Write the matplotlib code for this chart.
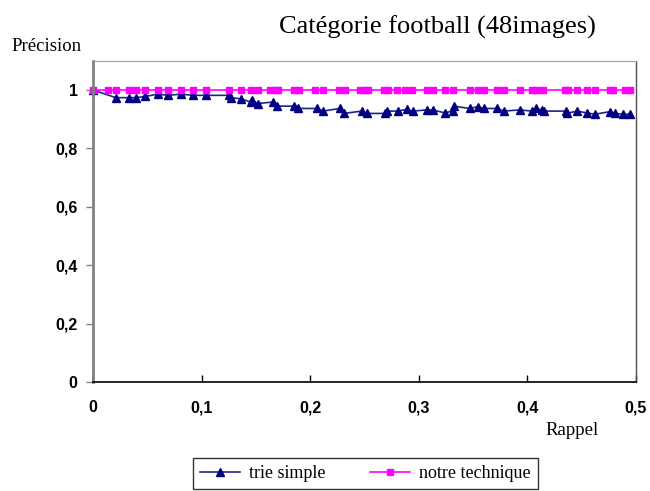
"""
Courbe précision / rappel, catégorie football.
"""
import matplotlib
matplotlib.use("Agg")
import matplotlib.pyplot as plt
from matplotlib.ticker import FuncFormatter

# données
rappel_trie = [0.0, 0.0212, 0.0331, 0.0396, 0.0479, 0.0599, 0.0691, 0.0810, 0.0921,
               0.1041, 0.1252, 0.1271, 0.1363, 0.1455, 0.1464, 0.1519, 0.1657, 0.1694,
               0.1851, 0.1888, 0.2063, 0.2118, 0.2274, 0.2311, 0.2477, 0.2523, 0.2689,
               0.2707, 0.2808, 0.2891, 0.2947, 0.3076, 0.3131, 0.3241, 0.3315, 0.3324,
               0.3471, 0.3545, 0.3600, 0.3720, 0.3785, 0.3932, 0.4042, 0.4079, 0.4134,
               0.4153, 0.4355, 0.4365, 0.4457, 0.4549, 0.4622, 0.4761, 0.4807, 0.4880,
               0.4945]
precision_trie = [1.0, 0.974, 0.974, 0.974, 0.978, 0.986, 0.982, 0.986, 0.982,
                  0.982, 0.982, 0.974, 0.970, 0.959, 0.966, 0.954, 0.959, 0.945,
                  0.945, 0.937, 0.937, 0.928, 0.937, 0.920, 0.928, 0.920, 0.920,
                  0.928, 0.928, 0.934, 0.928, 0.932, 0.932, 0.922, 0.928, 0.945,
                  0.937, 0.943, 0.937, 0.937, 0.928, 0.932, 0.928, 0.937, 0.932,
                  0.928, 0.928, 0.920, 0.928, 0.922, 0.917, 0.926, 0.920, 0.917,
                  0.917]

rappel_notre = [0.0, 0.0138, 0.0212, 0.0331, 0.0396, 0.0479, 0.0599, 0.0691, 0.0810,
                0.0921, 0.1041, 0.1252, 0.1363, 0.1455, 0.1519, 0.1630, 0.1676, 0.1703,
                0.1851, 0.1897, 0.2044, 0.2118, 0.2265, 0.2320, 0.2459, 0.2505, 0.2532,
                0.2680, 0.2716, 0.2799, 0.2873, 0.2937, 0.3076, 0.3131, 0.3241, 0.3315,
                0.3471, 0.3545, 0.3600, 0.3720, 0.3785, 0.3932, 0.4042, 0.4088, 0.4144,
                0.4346, 0.4374, 0.4457, 0.4549, 0.4622, 0.4761, 0.4788, 0.4899, 0.4945]
precision_notre = [1.0] * len(rappel_notre)

x_ticks = [0, 0.1, 0.2, 0.3, 0.4, 0.5]
y_ticks = [0, 0.2, 0.4, 0.6, 0.8, 1.0]

fig = plt.figure(figsize=(6.5, 4.91), dpi=100)
ax = fig.add_axes([0.143, 0.222, 0.835, 0.654])

ax.plot(rappel_trie, precision_trie, color="#22228a", linewidth=1.2,
        marker="^", markersize=6, markerfacecolor="#000080",
        markeredgecolor="#000080", label="trie simple", clip_on=False)
ax.plot(rappel_notre, precision_notre, color="#ff00ff", linewidth=1.2,
        marker="s", markersize=4.5, markerfacecolor="#ff00ff",
        markeredgecolor="#ff00ff", label="notre technique", clip_on=False)

ax.set_xlim(0, 0.5)
ax.set_ylim(0, 1.1)
ax.set_xticks(x_ticks)
ax.set_yticks(y_ticks)


def virgule(v, pos):
    s = "%g" % v
    return s.replace(".", ",")


ax.xaxis.set_major_formatter(FuncFormatter(virgule))
ax.yaxis.set_major_formatter(FuncFormatter(virgule))
for lab in ax.get_xticklabels() + ax.get_yticklabels():
    lab.set_fontfamily("Liberation Sans")
    lab.set_fontweight("bold")
    lab.set_fontsize(11.5)

ax.tick_params(axis="x", direction="in", length=5, width=1, pad=13, color="black")
ax.tick_params(axis="y", direction="out", length=5, width=1, pad=6, color="#808080")

ax.spines["left"].set_color("#808080")
ax.spines["left"].set_linewidth(2)
ax.spines["bottom"].set_color("black")
ax.spines["bottom"].set_linewidth(1.2)
ax.spines["top"].set_color("#a0a0a0")
ax.spines["top"].set_linewidth(0.8)
ax.spines["right"].set_color("#505050")
ax.spines["right"].set_linewidth(1)

fig.text(0.673, 0.945, "Catégorie football (48images)", ha="center", va="center",
         fontfamily="Liberation Serif", fontsize=19)
fig.text(0.018, 0.906, "Précision", ha="left", va="center",
         fontfamily="Liberation Serif", fontsize=13.5)
fig.text(0.88, 0.124, "Rappel", ha="center", va="center",
         fontfamily="Liberation Serif", fontsize=13.5)

leg = fig.legend(loc="upper center", bbox_to_anchor=(0.562, 0.068), ncol=2,
                 frameon=True, fancybox=False, borderaxespad=0, handlelength=2.2,
                 handletextpad=0.5, columnspacing=2.5,
                 prop={"family": "Liberation Serif", "size": 13})
leg.get_frame().set_edgecolor("black")
leg.get_frame().set_linewidth(1)

fig.savefig("out.png", dpi=100)
